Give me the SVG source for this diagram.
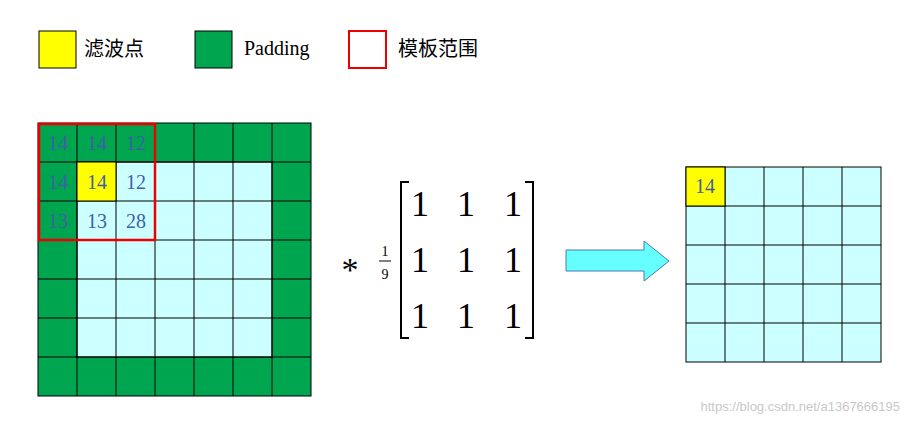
<svg xmlns="http://www.w3.org/2000/svg" width="912" height="425" viewBox="0 0 912 425">
<style>
.g{fill:#00a550;stroke:#000;stroke-width:1}
.c{fill:#ccffff;stroke:#000;stroke-width:1}
.y{fill:#ffff00;stroke:#000;stroke-width:1}
.n{font-family:"Liberation Serif",serif;font-size:20px;fill:#4060a8;text-anchor:middle}
.m{font-family:"Liberation Serif",serif;font-size:36px;fill:#000;text-anchor:middle}
.l{font-family:"Noto Sans CJK SC",sans-serif;font-size:20px;fill:#000}
</style>
<rect width="912" height="425" fill="#fff"/>
<g id="legend">
<rect x="39" y="31" width="37" height="37" fill="#ffff00" stroke="#000"/>
<text class="l" x="84" y="56">滤波点</text>
<rect x="195" y="31" width="37" height="37" fill="#00a550" stroke="#000"/>
<text x="244" y="55" style="font-family:'Liberation Serif',serif;font-size:20px">Padding</text>
<rect x="349" y="31" width="37" height="37" fill="#fff" stroke="#e00" stroke-width="2"/>
<text class="l" x="398" y="56">模板范围</text>
</g>
<g id="input">
<rect class="g" x="38" y="123" width="273" height="273"/>
<rect class="c" x="77" y="162" width="195" height="195"/>
<path d="M77 123V396M116 123V396M155 123V396M194 123V396M233 123V396M272 123V396M38 162H311M38 201H311M38 240H311M38 279H311M38 318H311M38 357H311" stroke="#000" fill="none"/>
<rect class="y" x="77" y="162" width="39" height="39"/>
<text class="n" x="58" y="150">14</text><text class="n" x="97" y="150">14</text><text class="n" x="136" y="150">12</text>
<text class="n" x="58" y="189">14</text><text class="n" x="97" y="189">14</text><text class="n" x="136" y="189">12</text>
<text class="n" x="58" y="228">13</text><text class="n" x="97" y="228">13</text><text class="n" x="136" y="228">28</text>
<rect x="39" y="124" width="116" height="116" fill="none" stroke="#e00" stroke-width="2.5"/>
</g>
<g id="kernel">
<text x="350" y="281" style="font-family:'Liberation Serif',serif;font-size:34px;text-anchor:middle">*</text>
<text x="385" y="256" style="font-family:'Liberation Serif',serif;font-size:14px;text-anchor:middle">1</text>
<line x1="379" y1="261" x2="391" y2="261" stroke="#000"/>
<text x="385" y="279" style="font-family:'Liberation Serif',serif;font-size:14px;text-anchor:middle">9</text>
<path d="M409 182H401V338H409M525 182H533V338H525" fill="none" stroke="#000" stroke-width="2"/>
<text class="m" x="420" y="216">1</text><text class="m" x="466" y="216">1</text><text class="m" x="513" y="216">1</text>
<text class="m" x="420" y="272">1</text><text class="m" x="466" y="272">1</text><text class="m" x="513" y="272">1</text>
<text class="m" x="420" y="328">1</text><text class="m" x="466" y="328">1</text><text class="m" x="513" y="328">1</text>
</g>
<g id="connectors">
<path d="M566 250H644V241L669 261L644 281V271H566Z" fill="#66ffff" stroke="#4a7ab0" stroke-width="1"/>
</g>
<g id="output">
<rect class="c" x="686" y="167" width="195" height="195"/>
<path d="M725 167V362M764 167V362M803 167V362M842 167V362M686 206H881M686 245H881M686 284H881M686 323H881" stroke="#000"/>
<rect class="y" x="686" y="167" width="39" height="39"/>
<text class="n" x="705" y="193">14</text>
</g>
<text x="900" y="411" style="font-family:'Liberation Sans',sans-serif;font-size:13px;fill:#c8c8c8;text-anchor:end">https://blog.csdn.net/a1367666195</text>
</svg>
